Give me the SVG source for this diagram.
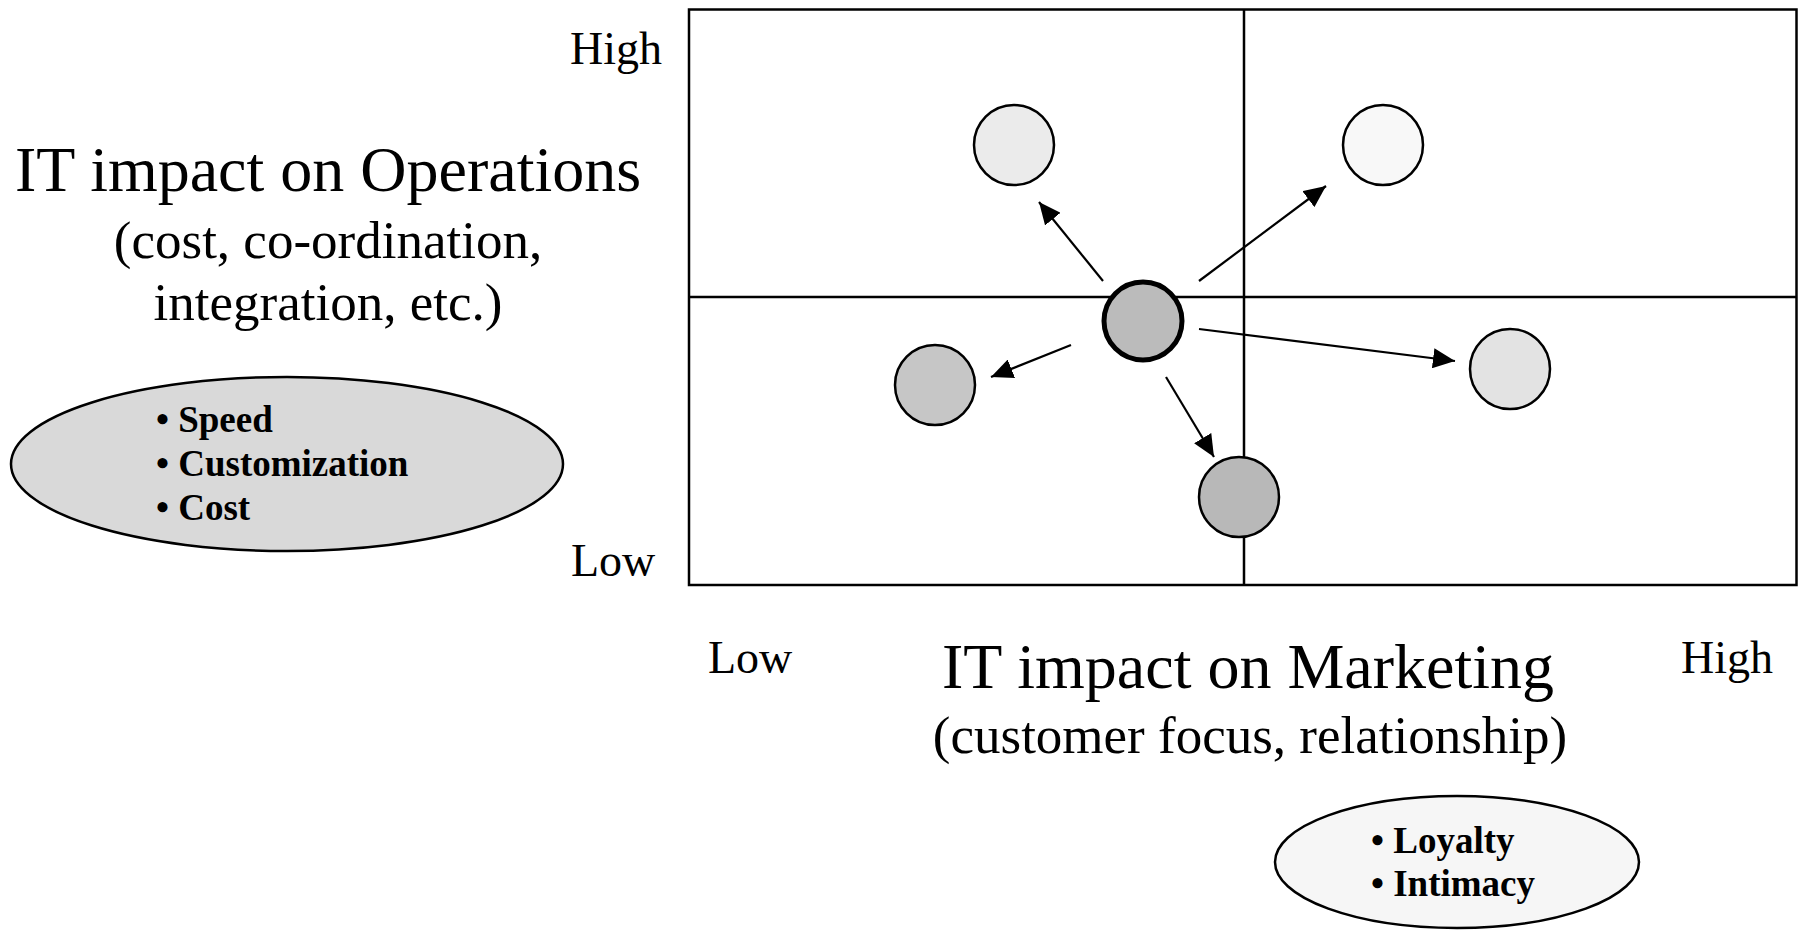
<svg xmlns="http://www.w3.org/2000/svg" width="1798" height="934" viewBox="0 0 1798 934">
  <style>
    .serif { font-family: "Liberation Serif", "Times New Roman", serif; fill: #000; }
    .axis { font-size: 46px; }
    .title { font-size: 64px; text-anchor: middle; }
    .sub { font-size: 53px; text-anchor: middle; }
    .bullet { font-size: 37px; font-weight: bold; }
    .grid { fill: none; stroke: #000; stroke-width: 2.5; }
    .node { stroke: #000; stroke-width: 2.5; }
    .arrow { stroke: #000; stroke-width: 2.2; fill: none; marker-end: url(#head); }
  </style>
  <defs>
    <marker id="head" markerUnits="userSpaceOnUse" markerWidth="22" markerHeight="20" refX="22" refY="10" orient="auto">
      <path d="M0,0 L22,10 L0,20 z" fill="#000"/>
    </marker>
  </defs>

  <rect width="1798" height="934" fill="#fff"/>

  <!-- quadrant frame -->
  <g id="matrix">
    <rect class="grid" x="689" y="9.5" width="1107.5" height="575.5"/>
    <line class="grid" x1="1244" y1="9.5" x2="1244" y2="585"/>
    <line class="grid" x1="689" y1="297" x2="1796.5" y2="297"/>
  </g>

  <!-- vertical axis labels -->
  <g id="y-axis">
    <text class="serif axis" x="570" y="64">High</text>
    <text class="serif axis" x="571" y="576">Low</text>
    <text class="serif title" x="328" y="191">IT impact on Operations</text>
    <text class="serif sub" x="328" y="258">(cost, co-ordination,</text>
    <text class="serif sub" x="328" y="320">integration, etc.)</text>
  </g>

  <g id="operations-drivers">
    <ellipse cx="287" cy="464" rx="276" ry="87" fill="#d9d9d9" stroke="#000" stroke-width="2.5"/>
    <text class="serif bullet" x="156" y="432">• Speed</text>
    <text class="serif bullet" x="156" y="476">• Customization</text>
    <text class="serif bullet" x="156" y="520">• Cost</text>
  </g>

  <!-- horizontal axis labels -->
  <g id="x-axis">
    <text class="serif axis" x="708" y="673">Low</text>
    <text class="serif axis" x="1681" y="673">High</text>
    <text class="serif title" x="1248" y="688">IT impact on Marketing</text>
    <text class="serif sub" x="1250" y="753">(customer focus, relationship)</text>
  </g>

  <g id="marketing-drivers">
    <ellipse cx="1457" cy="862" rx="182" ry="66" fill="#f6f6f6" stroke="#000" stroke-width="2.5"/>
    <text class="serif bullet" x="1371" y="853">• Loyalty</text>
    <text class="serif bullet" x="1371" y="896">• Intimacy</text>
  </g>

  <!-- connectors -->
  <g id="connectors">
    <line class="arrow" x1="1103" y1="281" x2="1039" y2="202"/>
    <line class="arrow" x1="1199" y1="281" x2="1326" y2="186"/>
    <line class="arrow" x1="1199" y1="329" x2="1455" y2="361"/>
    <line class="arrow" x1="1071" y1="345" x2="991" y2="377"/>
    <line class="arrow" x1="1166" y1="377" x2="1214" y2="457"/>
  </g>

  <!-- positions -->
  <g id="pos-center">
    <circle cx="1143" cy="321" r="39" fill="#bbbbbb" stroke="#000" stroke-width="5"/>
  </g>
  <g id="pos-upper-left">
    <circle class="node" cx="1014" cy="145" r="40" fill="#ebebeb"/>
  </g>
  <g id="pos-upper-right">
    <circle class="node" cx="1383" cy="145" r="40" fill="#f8f8f8"/>
  </g>
  <g id="pos-right">
    <circle class="node" cx="1510" cy="369" r="40" fill="#e3e3e3"/>
  </g>
  <g id="pos-left">
    <circle class="node" cx="935" cy="385" r="40" fill="#c6c6c6"/>
  </g>
  <g id="pos-lower">
    <circle class="node" cx="1239" cy="497" r="40" fill="#b8b8b8"/>
  </g>
</svg>
